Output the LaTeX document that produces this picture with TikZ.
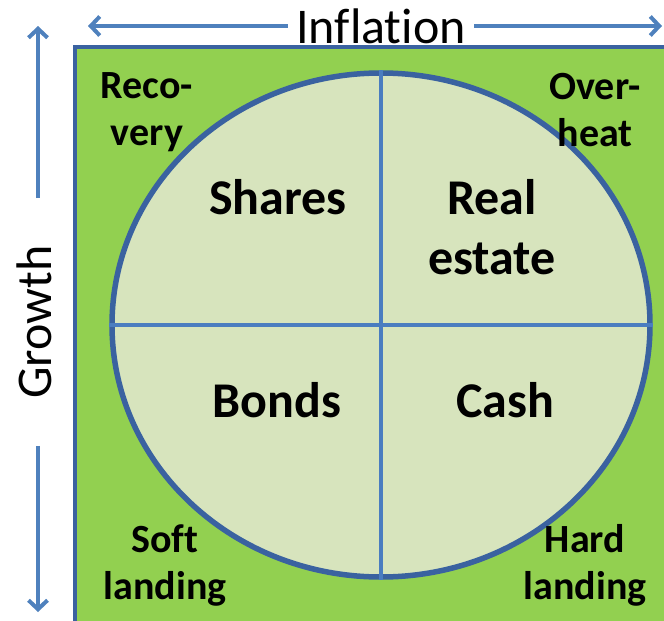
\documentclass[tikz,border=0pt]{standalone}
\usepackage{fontspec}
\setmainfont{Carlito}[Ligatures=NoCommon]
\usetikzlibrary{shapes.geometric,arrows.meta}
\definecolor{leafgreen}{HTML}{92D050}
\definecolor{paleleaf}{HTML}{D7E4BD}
\definecolor{rimblue}{HTML}{3A62A0}
\definecolor{crossblue}{HTML}{4A7DC0}
\definecolor{axisblue}{HTML}{4F81BD}
\tikzset{
  axis/.style={draw=axisblue, line width=4pt, -{Straight Barb[length=9pt,width=19pt]}},
  axislabel/.style={font=\fontsize{50}{60}\selectfont, inner sep=0pt},
  asset/.style={font=\fontsize{50}{60}\selectfont\bfseries, align=center},
  phase/.style={font=\fontsize{40}{47}\selectfont\bfseries, align=center}
}
\begin{document}
\begin{tikzpicture}[x=1pt,y=-1pt]
        \useasboundingbox (0,0) rectangle (664,621);
        \clip (0,0) rectangle (664,621);

        \fill[leafgreen] (75,47) rectangle (700,660);
        \draw[rimblue, line width=4pt] (700,47) -- (75,47) -- (75,660);

        \node[ellipse, draw=rimblue, line width=5.5pt, fill=paleleaf, minimum width=538pt, minimum height=504pt, inner sep=0pt] (disc) at (381,325) {};
        \draw[crossblue, line width=4pt] (disc.north) -- (disc.south);
        \draw[crossblue, line width=4pt] (disc.west) -- (disc.east);

        \node[asset] (shares) at (278,197) {Shares};
        \node[asset] (realestate) at (492,227) {Real\\estate};
        \node[asset] (bonds) at (277,400) {Bonds};
        \node[asset] (cash) at (505,400) {Cash};

        \node[phase] (recovery) at (147,112) {Reco-\\very};
        \node[phase] (overheat) at (595,110) {Over-\\heat};
        \node[phase] (soft) at (165,565) {Soft\\landing};
        \node[phase] (hard) at (585,565) {Hard\\landing};

        \coordinate (inflL) at (88,26);
        \coordinate (inflR) at (662,26);
        \node[axislabel, inner xsep=8pt] (inflation) at (381,26) {Inflation};
        \draw[axis] (inflation.west) -- (inflL);
        \draw[axis] (inflation.east) -- (inflR);

        \coordinate (growthT) at (38,26);
        \coordinate (growthB) at (38,612);
        \node[axislabel, rotate=90, inner xsep=47pt] (growth) at (34,322) {Growth};
        \draw[axis] (growthT |- growth.east) -- (growthT);
        \draw[axis] (growthB |- growth.west) -- (growthB);
    \end{tikzpicture}
\end{document}
